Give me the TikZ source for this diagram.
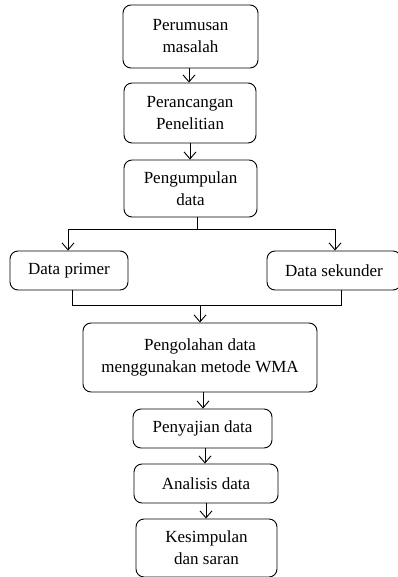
\documentclass[tikz,border=0pt]{standalone}
\usepackage{fontspec}
\setmainfont{Liberation Serif}
\usepackage{tikz}
\usetikzlibrary{arrows.meta, calc}

\begin{document}
\begin{tikzpicture}
         [
          x=1pt, y=1pt,
          kotak/.style={draw, line width=0.9pt, rounded corners=8pt, align=center,
                        inner sep=0pt, font=\fontsize{17}{22}\selectfont},
          panah/.style={line width=0.9pt, -{Straight Barb[length=7pt, width=12pt]}},
          garis/.style={line width=0.9pt}
         ]
         \useasboundingbox (0,0) rectangle (398,-577); % 画布大小
         % 方框
         \node[kotak, minimum width=135, minimum height=63] (rumus) at (190.5,-36.5) {Perumusan\\masalah};
         \node[kotak, minimum width=132, minimum height=60] (rancang) at (190,-113) {Perancangan\\Penelitian};
         \node[kotak, minimum width=133, minimum height=57] (kumpul) at (190.5,-188.5) {Pengumpulan\\data};
         \node[kotak, minimum width=118, minimum height=39] (primer) at (69,-270.5) {Data primer};
         \node[kotak, minimum width=134, minimum height=39] (sekunder) at (334,-270.5) {Data sekunder};
         \node[kotak, minimum width=234, minimum height=69] (olah) at (200,-357.5) {Pengolahan data\\menggunakan metode WMA};
         \node[kotak, minimum width=139, minimum height=39] (saji) at (202.5,-428.5) {Penyajian data};
         \node[kotak, minimum width=144, minimum height=39] (analisis) at (206,-483.5) {Analisis data};
         \node[kotak, minimum width=141, minimum height=58] (simpul) at (206.5,-548) {Kesimpulan\\dan saran};
         % 分支点
         \coordinate (cabang) at (197,-229);
         \coordinate (cabangL) at (68,-229);
         \coordinate (cabangR) at (335,-229);
         \coordinate (gabungL) at (72,-305);
         \coordinate (gabungR) at (341,-305);
         \coordinate (gabung) at (200,-305);
         % 箭头
         \draw[panah] (rumus.south -| 189,0) -- (rancang.north -| 189,0);
         \draw[panah] (rancang.south -| 190,0) -- (kumpul.north -| 190,0);
         \draw[garis] (kumpul.south -| cabang) -- (cabang);
         \draw[garis] (cabangL) -- (cabangR);
         \draw[panah] (cabangL) -- (primer.north -| cabangL);
         \draw[panah] (cabangR) -- (sekunder.north -| cabangR);
         \draw[garis] (primer.south -| gabungL) -- (gabungL) -- (gabungR) -- (sekunder.south -| gabungR);
         \draw[panah] (gabung) -- (olah.north -| gabung);
         \draw[panah] (olah.south -| 203,0) -- (saji.north -| 203,0);
         \draw[panah] (saji.south -| 205,0) -- (analisis.north -| 205,0);
         \draw[panah] (analisis.south -| 206,0) -- (simpul.north -| 206,0);
\end{tikzpicture}
\end{document}
